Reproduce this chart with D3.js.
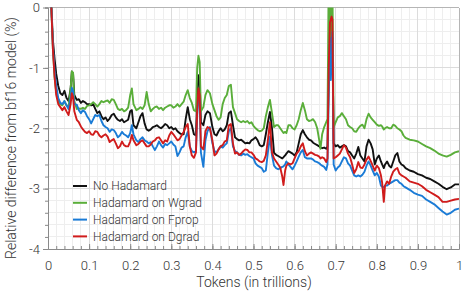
<!DOCTYPE html>
<html><head><meta charset="utf-8">
<script src="https://cdn.jsdelivr.net/npm/d3@7"></script>
<style>
html,body{margin:0;padding:0;background:#fff;}
svg{display:block;font-family:Roboto, "Liberation Sans", sans-serif;font-weight:300;}
</style></head>
<body><svg id="c" width="476" height="292"></svg>
<script>
const seriesNames = ["No Hadamard","Hadamard on Wgrad","Hadamard on Fprop","Hadamard on Dgrad"];
const seriesColors = ["#111111","#5aae3a","#1a7bd6","#d01c1c"];
const xTicks = [0,0.1,0.2,0.3,0.4,0.5,0.6,0.7,0.8,0.9,1];
const xTickLabels = ["0","0.1","0.2","0.3","0.4","0.5","0.6","0.7","0.8","0.9","1"];
const yTicks = [0,-1,-2,-3,-4];
const yTickLabels = ["0","-1","-2","-3","-4"];

const tokens = [0.007,0.012,0.016,0.02,0.025,0.03,0.035,0.04,0.045,0.05,0.055,0.058,0.061,0.064,0.07,0.075,0.08,0.085,0.09,0.095,
0.10,0.105,0.11,0.115,0.12,0.125,0.13,0.135,0.14,0.145,0.15,0.155,0.16,0.165,0.17,0.175,0.18,0.185,0.19,0.195,
0.20,0.204,0.208,0.215,0.22,0.225,0.23,0.235,0.24,0.245,0.25,0.255,0.26,0.265,0.27,0.275,0.28,0.285,0.29,0.295,
0.30,0.305,0.31,0.315,0.32,0.325,0.33,0.335,0.34,0.345,0.35,0.355,0.36,0.363,0.366,0.369,0.372,0.378,0.383,0.388,0.394,
0.40,0.405,0.41,0.415,0.42,0.425,0.43,0.435,0.44,0.445,0.45,0.455,0.46,0.465,0.47,0.475,0.48,0.485,0.49,0.495,
0.50,0.505,0.51,0.515,0.52,0.525,0.53,0.535,0.54,0.545,0.55,0.555,0.56,0.565,0.57,0.573,0.577,0.58,0.585,0.59,0.595,
0.60,0.605,0.61,0.615,0.62,0.625,0.63,0.635,0.64,0.645,0.65,0.655,0.66,0.663,0.667,0.672,0.677,0.68,0.683,0.686,0.688,0.69,0.692,0.695,
0.70,0.705,0.71,0.715,0.72,0.725,0.73,0.735,0.74,0.745,0.75,0.755,0.76,0.765,0.77,0.775,0.78,0.785,0.79,0.795,
0.80,0.805,0.81,0.813,0.817,0.82,0.825,0.83,0.835,0.84,0.845,0.85,0.855,0.86,0.865,0.87,0.88,0.89,
0.90,0.91,0.92,0.93,0.94,0.95,0.96,0.97,0.98,0.99,1.0];

const noHadamard = [0.2,-0.55,-0.85,-1.1,-1.3,-1.42,-1.45,-1.38,-1.5,-1.55,-1.35,-1.06,-1.1,-1.45,-1.53,-1.52,-1.58,-1.55,-1.57,-1.6,
-1.6,-1.62,-1.6,-1.68,-1.75,-1.72,-1.8,-1.85,-1.82,-1.88,-1.84,-1.78,-1.76,-1.82,-1.86,-1.88,-1.85,-1.9,-1.88,-1.86,
-1.72,-1.7,-1.95,-2.0,-1.9,-1.8,-1.75,-1.92,-2.02,-2.04,-2.02,-1.98,-1.97,-1.95,-1.98,-2.0,-1.97,-1.93,-1.95,-2.0,
-1.98,-2.02,-2.0,-2.05,-2.08,-2.1,-2.1,-1.85,-1.65,-1.85,-1.95,-2.1,-2.12,-1.5,-1.12,-1.2,-1.9,-1.95,-1.78,-1.72,-1.75,
-1.98,-2.1,-2.12,-2.05,-2.0,-2.05,-2.02,-1.95,-1.75,-1.72,-1.95,-2.15,-2.18,-2.2,-2.19,-2.22,-2.25,-2.24,-2.25,-2.2,
-2.18,-2.15,-2.2,-2.28,-2.3,-2.28,-2.1,-1.9,-1.73,-2.0,-2.41,-2.44,-2.46,-2.48,-2.5,-2.48,-2.45,-2.42,-2.38,-2.4,-2.42,
-2.45,-2.4,-2.25,-2.1,-2.03,-2.1,-2.15,-2.19,-2.2,-2.24,-2.26,-2.28,-2.3,-2.32,-2.33,-2.32,-2.34,-2.3,-1.0,-0.3,-1.0,-0.8,-0.5,-2.25,
-2.3,-2.28,-2.32,-2.3,-2.28,-2.3,-2.38,-2.4,-2.45,-2.5,-2.42,-2.31,-2.45,-2.5,-2.55,-2.3,-2.19,-2.25,-2.35,-2.6,
-2.5,-2.45,-2.55,-2.6,-2.66,-2.6,-2.55,-2.62,-2.65,-2.55,-2.45,-2.41,-2.55,-2.6,-2.62,-2.66,-2.7,-2.72,
-2.76,-2.78,-2.82,-2.84,-2.88,-2.92,-2.97,-3.01,-2.98,-2.93,-2.93];

const wgrad = [0.2,-0.7,-1.15,-1.4,-1.55,-1.6,-1.62,-1.55,-1.62,-1.65,-1.35,-1.06,-1.08,-1.55,-1.68,-1.67,-1.68,-1.66,-1.68,-1.63,
-1.62,-1.6,-1.57,-1.6,-1.64,-1.6,-1.55,-1.57,-1.55,-1.54,-1.58,-1.52,-1.53,-1.6,-1.68,-1.7,-1.68,-1.72,-1.7,-1.66,
-1.45,-1.34,-1.6,-1.7,-1.68,-1.65,-1.68,-1.62,-1.4,-1.6,-1.72,-1.68,-1.65,-1.64,-1.68,-1.66,-1.7,-1.66,-1.64,-1.62,
-1.62,-1.66,-1.64,-1.6,-1.64,-1.6,-1.56,-1.45,-1.37,-1.5,-1.58,-1.7,-1.72,-1.0,-0.8,-0.9,-1.72,-1.65,-1.45,-1.37,-1.42,
-1.6,-1.7,-1.8,-1.86,-1.82,-1.6,-1.5,-1.45,-1.3,-1.28,-1.65,-1.75,-1.85,-1.88,-1.9,-1.88,-1.9,-1.88,-1.92,-1.9,
-1.96,-2.0,-2.03,-2.05,-2.04,-2.0,-1.8,-1.65,-1.53,-1.75,-1.98,-1.95,-1.95,-2.0,-2.05,-2.08,-2.06,-2.08,-1.95,-1.95,-2.0,
-2.02,-1.95,-1.85,-1.7,-1.58,-1.7,-1.85,-1.88,-1.87,-1.85,-1.9,-2.0,-2.2,-2.34,-2.1,-1.98,-1.9,-1.85,0.4,0.4,-1.0,0.4,0.4,-1.98,
-1.9,-1.82,-1.8,-1.75,-1.8,-1.85,-1.95,-1.98,-2.0,-2.05,-2.06,-2.0,-1.96,-1.94,-2.0,-1.85,-1.76,-1.82,-1.86,-1.9,
-1.94,-1.96,-1.95,-1.97,-2.02,-2.0,-1.98,-2.0,-2.0,-1.94,-1.96,-2.0,-2.02,-2.05,-2.12,-2.16,-2.19,-2.2,
-2.22,-2.26,-2.3,-2.33,-2.37,-2.42,-2.45,-2.47,-2.44,-2.4,-2.38];

const fprop = [0.2,-0.65,-1.05,-1.3,-1.5,-1.58,-1.6,-1.55,-1.62,-1.68,-1.5,-1.33,-1.38,-1.6,-1.61,-1.7,-1.75,-1.7,-1.73,-1.8,
-1.85,-1.92,-1.85,-1.78,-1.8,-1.78,-1.88,-1.95,-1.98,-2.0,-2.06,-2.02,-2.03,-2.08,-2.15,-2.12,-2.06,-2.1,-2.12,-2.15,
-2.08,-1.95,-2.1,-2.2,-2.23,-2.18,-2.15,-2.2,-2.22,-2.25,-2.23,-2.3,-2.36,-2.3,-2.22,-2.28,-2.32,-2.26,-2.28,-2.25,
-2.22,-2.27,-2.3,-2.46,-2.4,-2.32,-2.3,-2.15,-2.06,-2.3,-2.38,-2.4,-2.38,-1.8,-1.45,-1.55,-2.4,-2.64,-2.2,-2.05,-1.98,
-2.25,-2.38,-2.4,-2.35,-2.3,-2.32,-2.28,-2.25,-2.05,-2.0,-2.3,-2.38,-2.4,-2.44,-2.45,-2.42,-2.44,-2.43,-2.46,-2.48,
-2.5,-2.58,-2.62,-2.64,-2.66,-2.72,-2.7,-2.4,-2.14,-2.45,-2.62,-2.66,-2.68,-2.66,-2.64,-2.63,-2.6,-2.55,-2.6,-2.64,-2.68,
-2.62,-2.55,-2.47,-2.4,-2.36,-2.48,-2.5,-2.5,-2.5,-2.52,-2.55,-2.56,-2.58,-2.6,-2.62,-2.64,-2.69,-2.6,-1.5,-0.5,-1.2,-0.6,-0.4,-2.6,
-2.7,-2.65,-2.62,-2.55,-2.48,-2.5,-2.58,-2.62,-2.7,-2.78,-2.8,-2.78,-2.8,-2.77,-2.72,-2.62,-2.55,-2.62,-2.7,-2.78,
-2.74,-2.8,-2.95,-2.97,-2.98,-2.95,-2.95,-2.92,-2.9,-2.88,-2.86,-2.86,-2.9,-2.92,-2.96,-2.98,-3.02,-3.07,
-3.1,-3.12,-3.18,-3.22,-3.26,-3.32,-3.38,-3.43,-3.4,-3.35,-3.33];

const dgrad = [0.2,-0.7,-1.15,-1.45,-1.6,-1.65,-1.7,-1.65,-1.72,-1.78,-1.6,-1.42,-1.48,-1.72,-1.86,-1.9,-1.97,-2.02,-2.06,-2.08,
-2.05,-2.1,-2.11,-2.05,-2.06,-2.12,-2.15,-2.12,-2.1,-2.14,-2.23,-2.2,-2.18,-2.25,-2.33,-2.3,-2.22,-2.28,-2.3,-2.3,
-2.22,-2.11,-2.2,-2.28,-2.26,-2.22,-2.2,-2.25,-2.3,-2.3,-2.27,-2.22,-2.2,-2.16,-2.15,-2.2,-2.25,-2.2,-2.22,-2.12,
-2.06,-2.1,-2.15,-2.2,-2.18,-2.12,-2.06,-1.98,-1.93,-2.3,-2.45,-2.49,-2.4,-1.7,-1.34,-1.45,-2.3,-2.35,-2.05,-1.98,-2.0,
-2.2,-2.45,-2.42,-2.35,-2.3,-2.28,-2.22,-2.2,-1.95,-1.93,-2.25,-2.42,-2.4,-2.44,-2.42,-2.38,-2.35,-2.36,-2.4,-2.4,
-2.44,-2.5,-2.52,-2.55,-2.56,-2.54,-2.45,-2.2,-1.9,-2.4,-2.5,-2.55,-2.6,-2.65,-2.8,-2.94,-2.7,-2.62,-2.58,-2.6,-2.58,
-2.5,-2.42,-2.38,-2.3,-2.25,-2.38,-2.45,-2.42,-2.4,-2.42,-2.44,-2.45,-2.47,-2.5,-2.48,-2.5,-2.56,-2.5,-1.0,-0.25,-0.2,-0.15,-0.2,-2.5,
-2.48,-2.45,-2.42,-2.35,-2.28,-2.32,-2.42,-2.48,-2.6,-2.74,-2.68,-2.56,-2.65,-2.66,-2.6,-2.52,-2.47,-2.54,-2.62,-2.7,
-2.62,-2.66,-2.78,-2.9,-3.22,-2.95,-2.88,-2.92,-2.8,-2.72,-2.68,-2.66,-2.75,-2.78,-2.8,-2.82,-2.88,-2.9,
-2.92,-2.96,-3.02,-3.06,-3.1,-3.14,-3.22,-3.22,-3.2,-3.18,-3.17];

const seriesValues = [noHadamard, wgrad, fprop, dgrad];

const svg = d3.select("#c");
const x0 = 48, x1 = 459, yTop = 7.5, yBot = 249;
const x = d3.scaleLinear().domain([0,1]).range([x0,x1]);
const y = d3.scaleLinear().domain([-4,0]).range([yBot,yTop]);

// grid
const g = svg.append("g");
const minorX = d3.range(0,1.0001,0.02);
const minorY = d3.range(-4,0.0001,0.2);
g.selectAll(".mx").data(minorX).enter().append("line")
  .attr("x1",d=>x(d)).attr("x2",d=>x(d)).attr("y1",yTop).attr("y2",yBot)
  .attr("stroke","#eeeeee").attr("stroke-width",1).attr("shape-rendering","crispEdges");
g.selectAll(".my").data(minorY).enter().append("line")
  .attr("y1",d=>y(d)).attr("y2",d=>y(d)).attr("x1",x0).attr("x2",x1)
  .attr("stroke","#eeeeee").attr("stroke-width",1).attr("shape-rendering","crispEdges");
g.selectAll(".MX").data(xTicks).enter().append("line")
  .attr("x1",d=>x(d)).attr("x2",d=>x(d)).attr("y1",yTop).attr("y2",yBot)
  .attr("stroke","#dcdcdc").attr("stroke-width",1).attr("shape-rendering","crispEdges");
g.selectAll(".MY").data(yTicks).enter().append("line")
  .attr("y1",d=>y(d)).attr("y2",d=>y(d)).attr("x1",x0).attr("x2",x1)
  .attr("stroke","#dcdcdc").attr("stroke-width",1).attr("shape-rendering","crispEdges");

// frame top/right
svg.append("line").attr("x1",x0).attr("x2",x1).attr("y1",yTop).attr("y2",yTop).attr("stroke","#b5b5b5").attr("shape-rendering","crispEdges");
svg.append("line").attr("x1",x1).attr("x2",x1).attr("y1",yTop).attr("y2",yBot).attr("stroke","#b5b5b5").attr("shape-rendering","crispEdges");

// clip
svg.append("clipPath").attr("id","clip").append("rect")
  .attr("x",x0).attr("y",yTop).attr("width",x1-x0).attr("height",yBot-yTop);

const line = d3.line().x((d,i)=>x(tokens[i])).y(d=>y(d)).curve(d3.curveLinear);
const lg = svg.append("g").attr("clip-path","url(#clip)");
seriesValues.forEach((vals,k)=>{
  lg.append("path").datum(vals).attr("d",line).attr("fill","none")
    .attr("stroke",seriesColors[k]).attr("stroke-width",1.9).attr("stroke-linejoin","round");
});

// axes
const axColor = "#8a8a8a";
const fs = "13px";
const xAxis = d3.axisBottom(x).tickValues(minorX).tickSize(-3).tickFormat("");
const xa = svg.append("g").attr("transform",`translate(0,${yBot})`).call(xAxis);
xa.selectAll("line").attr("stroke",axColor);
xa.select(".domain").attr("stroke",axColor);
const xAxisM = d3.axisBottom(x).tickValues(xTicks).tickSize(-5).tickPadding(12).tickFormat((d,i)=>xTickLabels[i]);
const xm = svg.append("g").attr("transform",`translate(0,${yBot})`).call(xAxisM);
xm.select(".domain").remove();
xm.selectAll("line").attr("stroke",axColor);
xm.selectAll("text").attr("fill","#333").style("font-size",fs).attr("font-family","Roboto").attr("font-weight",300);

const yAxis = d3.axisLeft(y).tickValues(minorY).tickSize(3).tickFormat("");
const ya = svg.append("g").attr("transform",`translate(${x0},0)`).call(yAxis);
ya.selectAll("line").attr("stroke",axColor);
ya.select(".domain").attr("stroke",axColor);
const yAxisM = d3.axisLeft(y).tickValues(yTicks).tickSize(5).tickPadding(3).tickFormat((d,i)=>yTickLabels[i]);
const ym = svg.append("g").attr("transform",`translate(${x0},0)`).call(yAxisM);
ym.select(".domain").remove();
ym.selectAll("line").attr("stroke",axColor);
ym.selectAll("text").attr("fill","#333").style("font-size",fs).attr("font-family","Roboto").attr("font-weight",300);

// labels
svg.append("text").attr("x",254).attr("y",287).attr("text-anchor","middle")
  .attr("fill","#333").style("font-size","14px").text("Tokens (in trillions)");
svg.append("text").attr("transform",`translate(16,138) rotate(-90)`).attr("text-anchor","middle")
  .attr("fill","#333").style("font-size","14px").text("Relative difference from bf16 model (%)");

// legend
const leg = svg.append("g");
seriesNames.forEach((n,i)=>{
  const yy = 186 + i*16.8;
  leg.append("line").attr("x1",73).attr("x2",87).attr("y1",yy).attr("y2",yy)
    .attr("stroke",seriesColors[i]).attr("stroke-width",2);
  leg.append("text").attr("x",93).attr("y",yy).attr("dy","0.35em")
    .attr("fill","#333").style("font-size","12px").text(n);
});
</script></body></html>
